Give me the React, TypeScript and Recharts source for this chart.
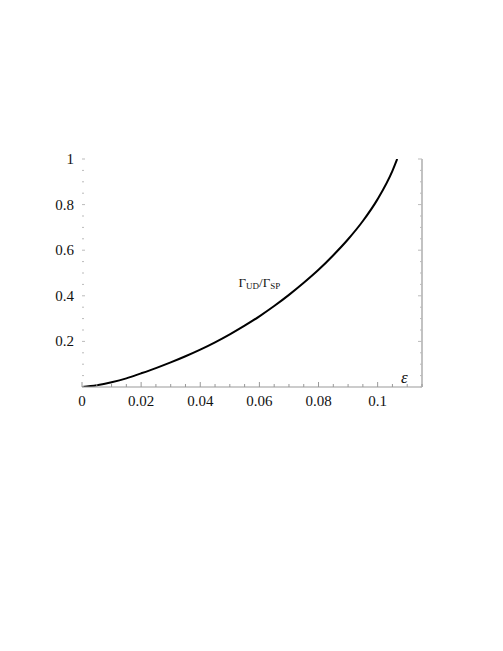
import React from "react";
import { LineChart, Line, XAxis, YAxis, ReferenceDot } from "recharts";

// epsilon values and the rate ratio Γ_UD/Γ_SP
const EPS = [0, 0.005, 0.01, 0.015, 0.02, 0.025, 0.03, 0.035, 0.04, 0.045, 0.05, 0.055, 0.06, 0.065, 0.07, 0.075, 0.08, 0.085, 0.09, 0.095, 0.1, 0.105, 0.1066];
const RATIO = [0, 0.008, 0.021, 0.038, 0.06, 0.083, 0.108, 0.135, 0.164, 0.196, 0.231, 0.269, 0.31, 0.355, 0.404, 0.457, 0.514, 0.578, 0.648, 0.728, 0.824, 0.948, 1.0];

const X_TICKS = [0, 0.005, 0.01, 0.015, 0.02, 0.025, 0.03, 0.035, 0.04, 0.045, 0.05, 0.055, 0.06, 0.065, 0.07, 0.075, 0.08, 0.085, 0.09, 0.095, 0.1, 0.105, 0.11, 0.115];
const X_LABELS = [0, 0.02, 0.04, 0.06, 0.08, 0.1];
const Y_TICKS = [0, 0.05, 0.1, 0.15, 0.2, 0.25, 0.3, 0.35, 0.4, 0.45, 0.5, 0.55, 0.6, 0.65, 0.7, 0.75, 0.8, 0.85, 0.9, 0.95, 1];
const Y_LABELS = [0.2, 0.4, 0.6, 0.8, 1];

const data = EPS.map((e, i) => ({ eps: e, ratio: RATIO[i] }));

const FONT = "'Liberation Serif', 'DejaVu Serif', serif";
const isIn = (list: number[], v: number) => list.some((l) => Math.abs(l - v) < 1e-9);

const BottomTick = (props: any) => {
  const { x, y, payload } = props;
  const major = isIn(X_LABELS, payload.value);
  return (
    <g>
      <line x1={x} x2={x} y1={y} y2={y - (major ? 5 : 3)} stroke="#999" strokeWidth={1} />
      {major && (
        <text x={x} y={y + 14} textAnchor="middle" dominantBaseline="central" fontFamily={FONT} fontSize={15} fill="#111">
          {String(payload.value)}
        </text>
      )}
    </g>
  );
};

const TopTick = (props: any) => {
  const { x, y, payload } = props;
  const major = isIn(X_LABELS, payload.value);
  return <line x1={x} x2={x} y1={y} y2={y + (major ? 4 : 2)} stroke="#bbb" strokeWidth={1} />;
};

const LeftTick = (props: any) => {
  const { x, y, payload } = props;
  const major = isIn(Y_LABELS, payload.value);
  return (
    <g>
      <line x1={x} x2={x + (major ? 3 : 2)} y1={y} y2={y} stroke="#bbb" strokeWidth={1} />
      {major && (
        <text x={x - 8} y={y} textAnchor="end" dominantBaseline="central" fontFamily={FONT} fontSize={15} fill="#111">
          {String(payload.value)}
        </text>
      )}
    </g>
  );
};

const RightTick = (props: any) => {
  const { x, y, payload } = props;
  const major = isIn(Y_LABELS, payload.value);
  return <line x1={x} x2={x - (major ? 4 : 2)} y1={y} y2={y} stroke="#bbb" strokeWidth={1} />;
};

const curveLabel = (props: any) => {
  const vb = props.viewBox || {};
  const cx = vb.x + (vb.width || 0) / 2;
  const cy = vb.y + (vb.height || 0) / 2;
  return (
    <text x={cx} y={cy} textAnchor="middle" fontFamily={FONT} fontSize={13} fill="#111">
      Γ<tspan fontSize={9} dy={2}>UD</tspan>
      <tspan dy={-2}>/Γ</tspan>
      <tspan fontSize={9} dy={2}>SP</tspan>
    </text>
  );
};

const epsLabel = (props: any) => {
  const vb = props.viewBox || {};
  const cx = vb.x + (vb.width || 0) / 2;
  const cy = vb.y + (vb.height || 0) / 2;
  return (
    <text x={cx} y={cy} textAnchor="middle" dominantBaseline="central" fontFamily={FONT} fontStyle="italic" fontSize={17} fill="#111">
      ε
    </text>
  );
};

export default function App() {
  return (
    <div style={{ position: "absolute", left: 0, top: 0, width: 503, height: 651, background: "#fff" }}>
      <LineChart width={503} height={651} data={data} margin={{ top: 159, right: 0, bottom: 0, left: 0 }}>
        <XAxis
          xAxisId="b"
          dataKey="eps"
          type="number"
          domain={[0, 0.115]}
          ticks={X_TICKS}
          interval={0}
          height={264}
          tickSize={0}
          tickMargin={0}
          tickLine={false}
          tick={<BottomTick />}
          axisLine={{ stroke: "#999", strokeWidth: 1.2 }}
          allowDataOverflow
        />
        <XAxis
          xAxisId="t"
          orientation="top"
          dataKey="eps"
          type="number"
          domain={[0, 0.115]}
          ticks={X_TICKS}
          interval={0}
          height={0}
          tickSize={0}
          tickMargin={0}
          tickLine={false}
          tick={<TopTick />}
          axisLine={false}
          allowDataOverflow
        />
        <YAxis
          yAxisId="l"
          type="number"
          domain={[0, 1]}
          ticks={Y_TICKS}
          interval={0}
          width={82}
          tickSize={0}
          tickMargin={0}
          tickLine={false}
          tick={<LeftTick />}
          axisLine={false}
          allowDataOverflow
        />
        <YAxis
          yAxisId="r"
          orientation="right"
          type="number"
          domain={[0, 1]}
          ticks={Y_TICKS}
          interval={0}
          width={81}
          tickSize={0}
          tickMargin={0}
          tickLine={false}
          tick={<RightTick />}
          axisLine={{ stroke: "#999", strokeWidth: 1.2 }}
          allowDataOverflow
        />
        <Line
          xAxisId="t"
          yAxisId="r"
          dataKey="ratio"
          type="monotone"
          stroke="none"
          dot={false}
          activeDot={false}
          isAnimationActive={false}
        />
        <Line
          xAxisId="b"
          yAxisId="l"
          dataKey="ratio"
          type="monotone"
          stroke="#000"
          strokeWidth={2}
          dot={false}
          activeDot={false}
          isAnimationActive={false}
        />
        <ReferenceDot xAxisId="b" yAxisId="l" x={0.06} y={0.44} r={0} fill="none" stroke="none" label={curveLabel} />
        <ReferenceDot xAxisId="b" yAxisId="l" x={0.109} y={0.043} r={0} fill="none" stroke="none" label={epsLabel} />
      </LineChart>
    </div>
  );
}
